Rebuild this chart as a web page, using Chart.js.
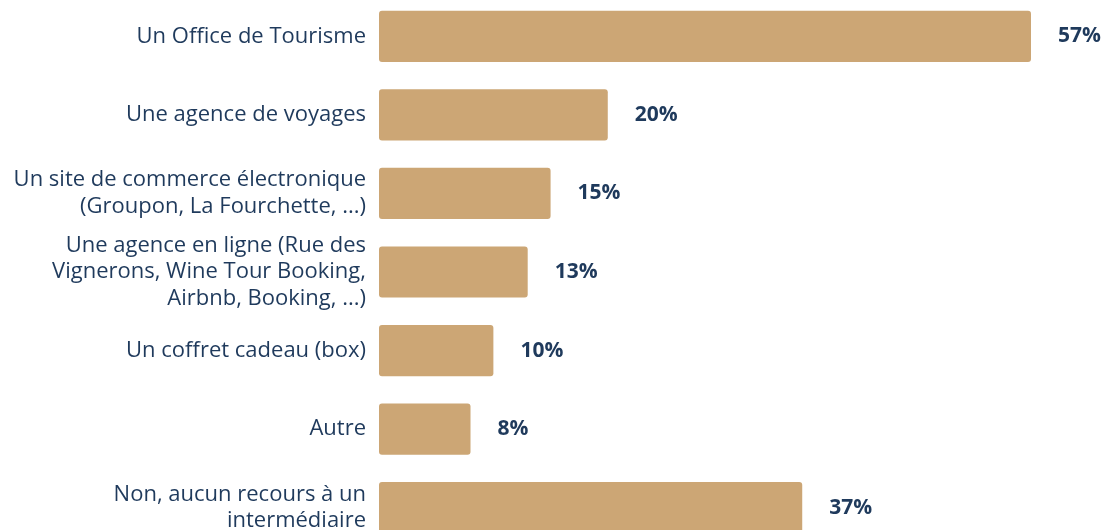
<!DOCTYPE html>
<html>
<head>
<meta charset="utf-8">
<script src="https://cdn.jsdelivr.net/npm/chart.js@4"></script>
<style>
    html, body { margin: 0; padding: 0; background: #fff; overflow: hidden; }
    #wrap { position: absolute; left: 0; top: -3px; width: 1107px; height: 550px; }
</style>
</head>
<body>
<div id="wrap"><canvas id="chartIntermediaires"></canvas></div>
<script>
// Données
const categories = [
    'Un Office de Tourisme',
    'Une agence de voyages',
    ['Un site de commerce électronique', '(Groupon, La Fourchette, ...)'],
    ['Une agence en ligne (Rue des', 'Vignerons, Wine Tour Booking,', 'Airbnb, Booking, ...)'],
    'Un coffret cadeau (box)',
    'Autre',
    ['Non, aucun recours à un', 'intermédiaire']
];
const valeurs = [57, 20, 15, 13, 10, 8, 37];

const couleurBarre = '#CCA675';
const couleurTexte = '#1F3A5C';

// étiquettes de valeur à droite des barres
const pluginValeurs = {
    id: 'valeurs',
    afterDatasetsDraw(chart) {
        const ctx = chart.ctx;
        const meta = chart.getDatasetMeta(0);
        ctx.save();
        ctx.font = 'bold 21px "Open Sans"';
        ctx.fillStyle = couleurTexte;
        ctx.textBaseline = 'middle';
        meta.data.forEach((bar, i) => {
            ctx.fillText(valeurs[i] + '%', bar.x + 27, bar.y);
        });
        ctx.restore();
    }
};

const ctx = document.getElementById('chartIntermediaires').getContext('2d');
new Chart(ctx, {
    type: 'bar',
    data: {
        labels: categories,
        datasets: [{
            data: valeurs,
            backgroundColor: couleurBarre,
            borderRadius: 3,
            borderSkipped: false,
            categoryPercentage: 0.8,
            barPercentage: 0.815
        }]
    },
    options: {
        indexAxis: 'y',
        responsive: true,
        maintainAspectRatio: false,
        animation: false,
        layout: { padding: { left: 0, right: 76, top: 0, bottom: 0 } },
        plugins: {
            legend: { display: false },
            tooltip: { enabled: false }
        },
        scales: {
            x: {
                display: false,
                min: 0,
                max: 57
            },
            y: {
                grid: { display: false, drawTicks: false },
                border: { display: false },
                ticks: {
                    autoSkip: false,
                    color: couleurTexte,
                    font: { family: '"Open Sans"', size: 22, lineHeight: 1.2 },
                    padding: 13
                },
                afterFit(scale) {
                    scale.width = 379;
                    scale.paddingTop = 0;
                    scale.paddingBottom = 0;
                }
            }
        }
    },
    plugins: [pluginValeurs]
});
</script>
</body>
</html>
